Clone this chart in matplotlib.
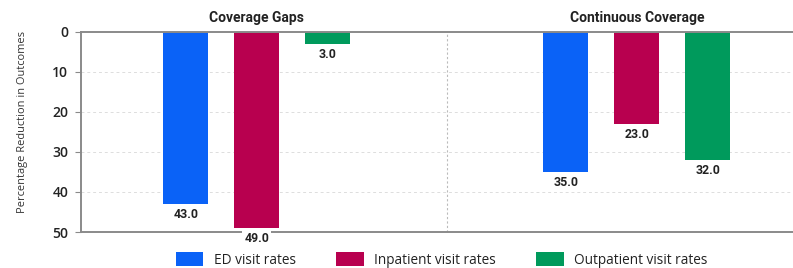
"""Percentage reduction in outcomes by coverage type."""

import matplotlib

matplotlib.use("Agg")

import matplotlib.pyplot as plt
import numpy as np
from matplotlib.patches import Patch

groups = ["Coverage Gaps", "Continuous Coverage"]
measures = ["ED visit rates", "Inpatient visit rates", "Outpatient visit rates"]
ed_values = [43.0, 35.0]
inpatient_values = [49.0, 23.0]
outpatient_values = [3.0, 32.0]

colors = ["#0a62f7", "#b8004f", "#009a5c"]
spine_color = "#8a8a8a"
bold_family = ["Roboto", "DejaVu Sans"]

plt.rcParams["font.family"] = ["Open Sans", "DejaVu Sans"]


def main() -> None:
    fig = plt.figure(figsize=(7.93, 2.68), dpi=100)
    ax = fig.add_axes([0.102, 0.134, 0.898, 0.748])

    x = np.arange(len(groups))
    width = 0.118
    offset = 0.187
    series = [ed_values, inpatient_values, outpatient_values]
    for i, (vals, color) in enumerate(zip(series, colors)):
        bars = ax.bar(x + (i - 1) * offset, vals, width, color=color, zorder=3)
        for bar, v in zip(bars, vals):
            ax.annotate(
                f"{v:.1f}",
                (bar.get_x() + bar.get_width() / 2, v),
                xytext=(0, -3),
                textcoords="offset points",
                ha="center",
                va="top",
                fontsize=8.9,
                fontweight="bold",
                family=bold_family,
                color="#222222",
                zorder=5,
                bbox=dict(facecolor="white", edgecolor="none", pad=1.5),
            )

    ax.set_ylim(50, 0)
    ax.set_xlim(-0.463, 1.411)
    ax.set_yticks([0, 10, 20, 30, 40, 50])
    ax.set_xticks([])
    ax.tick_params(axis="y", labelsize=10, length=4, color=spine_color, labelcolor="#222222", pad=5)
    for lbl in ax.get_yticklabels():
        lbl.set_fontweight("semibold")
    ax.set_ylabel("Percentage Reduction in Outcomes", fontsize=7.9, color="#333333")
    ax.yaxis.set_label_coords(-0.074, 0.547)

    for y in [10, 20, 30, 40]:
        ax.axhline(y, color="#dddddd", linestyle=(0, (3, 3)), linewidth=0.7, zorder=1)
    ax.axvline(0.5, color="#bbbbbb", linestyle=(0, (2, 2)), linewidth=0.8, zorder=1)

    for side in ["top", "bottom", "left"]:
        ax.spines[side].set_color(spine_color)
        ax.spines[side].set_linewidth(1.4)
        ax.spines[side].set_zorder(4)
    ax.spines["right"].set_visible(False)

    for xi, name in zip(x, groups):
        ax.text(xi, -1.6, name, ha="center", va="bottom", fontsize=10, fontweight="bold",
                family=bold_family, color="#222222")

    handles = [Patch(facecolor=c, edgecolor="none") for c in colors]
    fig.legend(
        handles,
        measures,
        loc="center",
        bbox_to_anchor=(0.557, 0.03),
        ncol=3,
        frameon=False,
        fontsize=9.8,
        handlelength=2.0,
        handleheight=1.25,
        handletextpad=0.75,
        columnspacing=3.0,
        labelcolor="#222222",
    )

    fig.savefig("out.png", dpi=100)
    plt.close(fig)


if __name__ == "__main__":
    main()
